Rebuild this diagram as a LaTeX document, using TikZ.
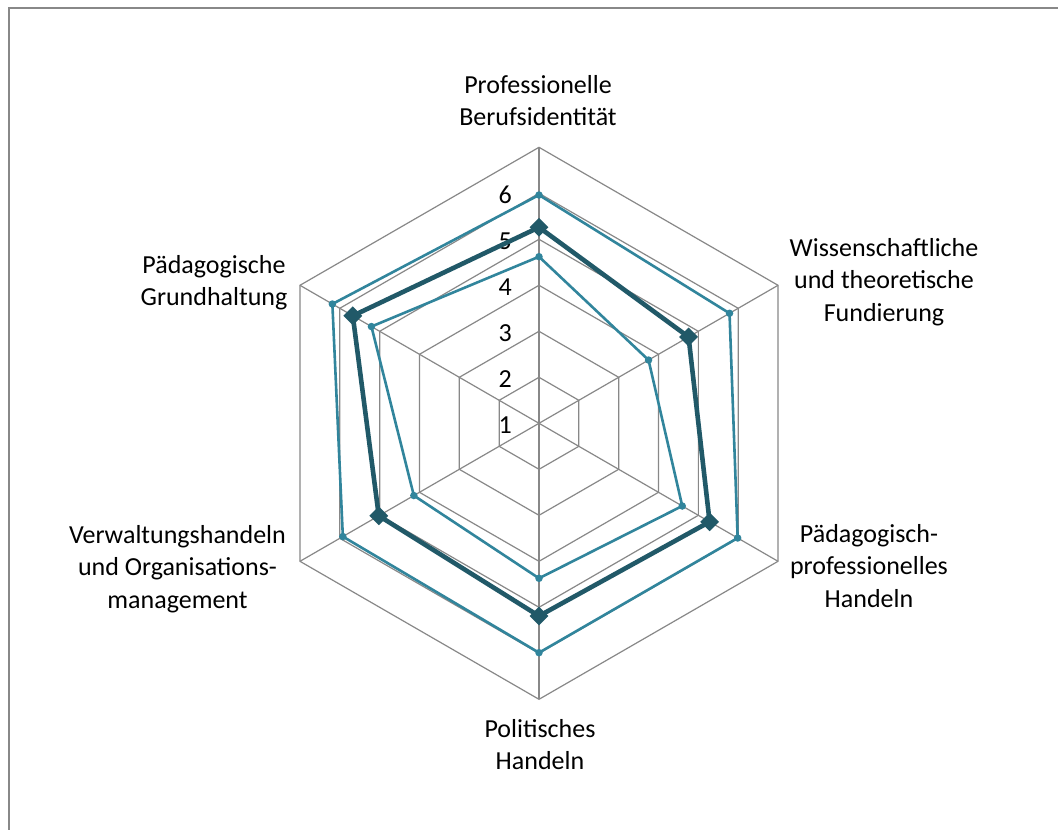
\documentclass[tikz,border=0pt]{standalone}
\usepackage{fontspec}
\setmainfont{Carlito}
\usetikzlibrary{calc,shapes.geometric}
\definecolor{gridgray}{HTML}{888888}
\definecolor{lightteal}{HTML}{31859C}
\definecolor{darkteal}{HTML}{215968}
\begin{document}
\begin{tikzpicture}[x=1pt,y=1pt,
  grid/.style={draw=gridgray, line width=1.2pt},
  lightser/.style={draw=lightteal, line width=2.6pt, line join=round},
  darkser/.style={draw=darkteal, line width=4.6pt, line join=round},
  lmark/.style={circle, fill=lightteal, inner sep=0pt, minimum size=7.5pt},
  dmark/.style={diamond, fill=darkteal, inner sep=0pt, minimum size=19pt},
  axlabel/.style={align=center, font=\fontsize{26}{32.5}\selectfont, inner sep=0pt, anchor=base},
  numlabel/.style={font=\fontsize{26}{32.5}\selectfont, inner sep=0pt, anchor=east}
]
\useasboundingbox (0,0) rectangle (1058,-830);
\fill[white] (0,0) rectangle (1058,-830);
\draw[gridgray, line width=1.6pt] (9,-830) -- (9,-8) -- (1058,-8);
\coordinate (O) at (539,-423.3);
% grid rings
\foreach \k in {1,...,6}{
  \draw[grid] ($(O)+(90:46*\k)$) -- ($(O)+(30:46*\k)$) -- ($(O)+(-30:46*\k)$)
     -- ($(O)+(-90:46*\k)$) -- ($(O)+(-150:46*\k)$) -- ($(O)+(150:46*\k)$) -- cycle;
}
\foreach \a in {90,30,-30,-90,-150,150}{
  \draw[grid] (O) -- ($(O)+(\a:276)$);
}
% number labels
\foreach \k in {1,...,6}{
  \node[numlabel] (n\k) at (512,{-423.3+46*(\k-1)-2}) {\k};
}
% series coordinates
\foreach \n/\a/\ra/\rb/\rc in {1/90/228.3/196/166.6, 2/30/220/172.7/126.5, 3/-30/229.4/197/165.4,
   4/-90/229.4/192.7/155, 5/-150/226.5/185/144.5, 6/150/238.6/215/193.5}{
  \coordinate (a\n) at ($(O)+(\a:\ra)$);
  \coordinate (b\n) at ($(O)+(\a:\rb)$);
  \coordinate (c\n) at ($(O)+(\a:\rc)$);
}
\draw[lightser] (a1) -- (a2) -- (a3) -- (a4) -- (a5) -- (a6) -- cycle;
\draw[lightser] (c1) -- (c2) -- (c3) -- (c4) -- (c5) -- (c6) -- cycle;
\foreach \n in {1,...,6}{
  \node[lmark] (ma\n) at (a\n) {};
  \node[lmark] (mc\n) at (c\n) {};
}
\draw[darkser] (b1) -- (b2) -- (b3) -- (b4) -- (b5) -- (b6) -- cycle;
\foreach \n in {1,...,6}{
  \node[dmark] (mb\n) at (b\n) {};
}
% axis labels (anchor = baseline of last line)
\node[axlabel] (l1) at (538,-125.5) {Professionelle\\Berufsidentität};
\node[axlabel] (l2) at (884,-321) {Wissenschaftliche\\und theoretische\\Fundierung};
\node[axlabel] (l3) at (869,-607) {Pädagogisch-\\professionelles\\Handeln};
\node[axlabel] (l4) at (540,-769.5) {Politisches\\Handeln};
\node[axlabel] (l5) at (177.5,-608) {Verwaltungshandeln\\und Organisations-\\management};
\node[axlabel] (l6) at (214,-305.5) {Pädagogische\\Grundhaltung};
\end{tikzpicture}
\end{document}
